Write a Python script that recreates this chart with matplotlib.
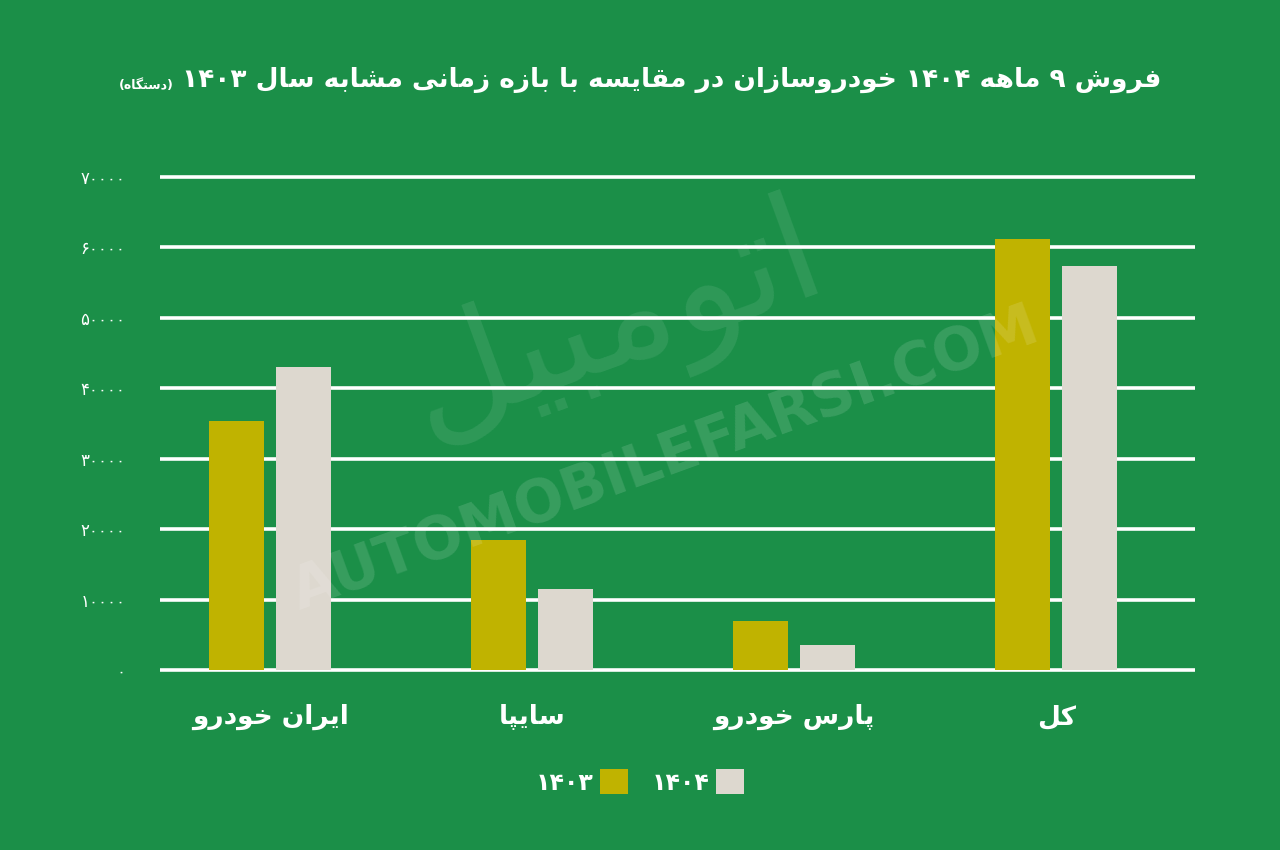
import re
import numpy as np
import matplotlib
matplotlib.use("Agg")
import matplotlib.pyplot as plt

# داده‌ها
categories = ["ایران خودرو", "سایپا", "پارس خودرو", "کل"]
sales_1403 = [35300, 18400, 7000, 61200]
sales_1404 = [43000, 11500, 3600, 57300]
series_names = ["1403", "1404"]
yticks = [0, 10000, 20000, 30000, 40000, 50000, 60000, 70000]
title = "فروش 9 ماهه 1404 خودروسازان در مقایسه با بازه زمانی مشابه سال 1403"
unit = "(دستگاه)"

BG = "#1b8f48"
C1403 = "#c0b300"
C1404 = "#ddd8cf"

# شکل‌دهی ساده حروف فارسی (matplotlib خودش اتصال حروف را انجام نمی‌دهد)
FORMS = {
    "ا": ("\uFE8D", "\uFE8E", None, None),
    "ب": ("\uFE8F", "\uFE90", "\uFE91", "\uFE92"),
    "پ": ("\uFB56", "\uFB57", "\uFB58", "\uFB59"),
    "ت": ("\uFE95", "\uFE96", "\uFE97", "\uFE98"),
    "خ": ("\uFEA5", "\uFEA6", "\uFEA7", "\uFEA8"),
    "د": ("\uFEA9", "\uFEAA", None, None),
    "ر": ("\uFEAD", "\uFEAE", None, None),
    "ز": ("\uFEAF", "\uFEB0", None, None),
    "س": ("\uFEB1", "\uFEB2", "\uFEB3", "\uFEB4"),
    "ش": ("\uFEB5", "\uFEB6", "\uFEB7", "\uFEB8"),
    "ف": ("\uFED1", "\uFED2", "\uFED3", "\uFED4"),
    "ق": ("\uFED5", "\uFED6", "\uFED7", "\uFED8"),
    "ک": ("\uFB8E", "\uFB8F", "\uFB90", "\uFB91"),
    "گ": ("\uFB92", "\uFB93", "\uFB94", "\uFB95"),
    "ل": ("\uFEDD", "\uFEDE", "\uFEDF", "\uFEE0"),
    "م": ("\uFEE1", "\uFEE2", "\uFEE3", "\uFEE4"),
    "ن": ("\uFEE5", "\uFEE6", "\uFEE7", "\uFEE8"),
    "ه": ("\uFEE9", "\uFEEA", "\uFEEB", "\uFEEC"),
    "و": ("\uFEED", "\uFEEE", None, None),
    "ی": ("\uFBFC", "\uFBFD", "\uFBFE", "\uFBFF"),
}
FA_DIGITS = str.maketrans("0123456789", "۰۱۲۳۴۵۶۷۸۹")


def shape(text):
    out = []
    for i, c in enumerate(text):
        if c not in FORMS:
            out.append(c)
            continue
        prev = text[i - 1] if i > 0 else None
        nxt = text[i + 1] if i + 1 < len(text) else None
        jp = prev in FORMS and FORMS[prev][2] is not None
        jn = nxt in FORMS and FORMS[c][2] is not None
        iso, fin, ini, med = FORMS[c]
        if jp and jn:
            out.append(med)
        elif jp:
            out.append(fin)
        elif jn:
            out.append(ini)
        else:
            out.append(iso)
    return "".join(out)


def fa(text):
    s = shape(text.translate(FA_DIGITS))
    tokens = re.findall(r"[\u06F0-\u06F9]+|.", s)
    mirror = {"(": ")", ")": "("}
    return "".join(mirror.get(t, t) for t in reversed(tokens))


plt.rcParams["font.family"] = ["DejaVu Sans"]

fig = plt.figure(figsize=(12.8, 8.5), dpi=100, facecolor=BG)
ax = fig.add_axes([160 / 1280, 1 - 673.5 / 850, 1035 / 1280, 500 / 850])
ax.set_facecolor(BG)

x = np.arange(len(categories))
w = 0.21
off = 0.128
ax.bar(x - off, sales_1403, w, color=C1403, label=fa(series_names[0]), zorder=3)
ax.bar(x + off, sales_1404, w, color=C1404, label=fa(series_names[1]), zorder=3)

for y in yticks:
    ax.axhline(y, color="white", lw=2.6, zorder=2)

ax.set_ylim(-500, 70500)
ax.set_xlim(-0.42, 3.53)
ax.set_yticks(yticks)
ax.set_yticklabels([fa(str(v)) for v in yticks], color="white", fontsize=12)
ax.tick_params(axis="y", length=0, pad=25)
ax.set_xticks(x)
ax.set_xticklabels([fa(c) for c in categories], color="white", fontsize=19,
                   fontweight="bold")
ax.tick_params(axis="x", length=0, pad=22)
for s in ax.spines.values():
    s.set_visible(False)

# واترمارک
fig.text(0.48, 0.62, fa("اتومبیل"), fontsize=105, color="white", alpha=0.09,
         rotation=20, ha="center", va="center")
fig.text(0.52, 0.46, "AUTOMOBILEFARSI.COM", fontsize=42, color="white", alpha=0.13,
         rotation=20, ha="center", va="center", fontweight="bold")

# عنوان + واحد، در کنار هم و وسط‌چین
t = fig.text(0, 1 - 80 / 850, fa(title), fontsize=19, fontweight="bold",
             color="white", ha="left", va="center")
u = fig.text(0, 1 - 86 / 850, fa(unit), fontsize=9, fontweight="bold",
             color="white", ha="left", va="center")
fig.canvas.draw()
tw = t.get_window_extent().width
uw = u.get_window_extent().width
gap = 8
x0 = 640 - (tw + gap + uw) / 2
u.set_x(x0 / 1280)
t.set_x((x0 + uw + gap) / 1280)

leg = fig.legend(loc="center", bbox_to_anchor=(640 / 1280, 1 - 782 / 850), ncol=2,
                 markerfirst=False, frameon=False, fontsize=17,
                 handlelength=1.2, handleheight=1.2, columnspacing=1.0,
                 handletextpad=0.25)
for txt in leg.get_texts():
    txt.set_color("white")
    txt.set_fontweight("bold")

fig.savefig("out.png", dpi=100, facecolor=BG)
